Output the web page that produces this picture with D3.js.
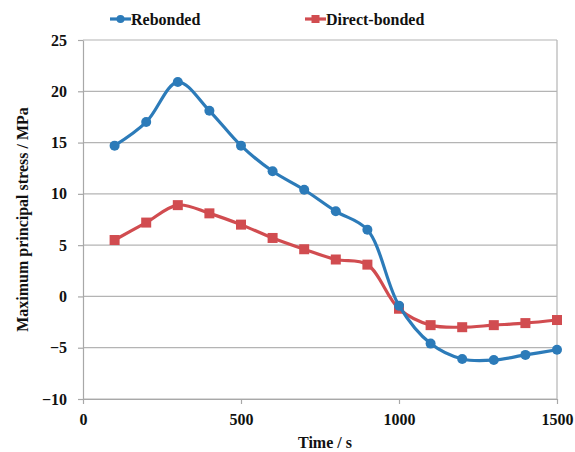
<!DOCTYPE html>
<html>
<head>
<meta charset="utf-8">
<script src="https://cdn.jsdelivr.net/npm/d3@7"></script>
<style>
  body { margin: 0; background: #fff; }
  .lbl { font-family: "Liberation Serif", "Times New Roman", serif; font-weight: bold; font-size: 16px; fill: #111; }
</style>
</head>
<body>
<script>
// Time steps (s)
const times = [100, 200, 300, 400, 500, 600, 700, 800, 900, 1000, 1100, 1200, 1300, 1400, 1500];
// Maximum principal stress (MPa)
const rebonded = [14.7, 17.0, 20.9, 18.1, 14.7, 12.2, 10.4, 8.3, 6.5, -0.9, -4.6, -6.1, -6.2, -5.7, -5.2];
const directBonded = [5.5, 7.2, 8.9, 8.1, 7.0, 5.7, 4.6, 3.6, 3.1, -1.2, -2.8, -3.0, -2.8, -2.6, -2.3];
const xTicks = [0, 500, 1000, 1500];
const yTicks = [25, 20, 15, 10, 5, 0, -5, -10];

const width = 575, height = 452;
const margin = {top: 40, right: 18, bottom: 53, left: 83};

const x = d3.scaleLinear([0, 1500], [margin.left, width - margin.right]);
const y = d3.scaleLinear([-10, 25], [height - margin.bottom, margin.top]);

const series = [
    {name: "Rebonded", values: rebonded, color: "#2c7bb9", shape: "circle"},
    {name: "Direct-bonded", values: directBonded, color: "#d14c50", shape: "square"}
];

const svg = d3.select("body").append("svg")
    .attr("width", width)
    .attr("height", height)
    .style("display", "block");

// gridlines
svg.append("g")
    .selectAll("line")
    .data(yTicks)
    .join("line")
    .attr("x1", x(0))
    .attr("x2", x(1500))
    .attr("y1", d => y(d))
    .attr("y2", d => y(d))
    .attr("stroke", "#b4b4b4")
    .attr("stroke-width", 1.2);

// right border
svg.append("line")
    .attr("x1", x(1500)).attr("x2", x(1500))
    .attr("y1", y(25)).attr("y2", y(-10))
    .attr("stroke", "#b4b4b4")
    .attr("stroke-width", 1.2);

// axes
const yAxis = svg.append("g")
    .attr("transform", `translate(${x(0)},0)`)
    .call(d3.axisLeft(y).tickValues(yTicks).tickFormat(d3.format("d")).tickSize(5).tickSizeOuter(0).tickPadding(11));

const xAxis = svg.append("g")
    .attr("transform", `translate(0,${y(-10)})`)
    .call(d3.axisBottom(x).tickValues(xTicks).tickFormat(d3.format("d")).tickSize(5).tickSizeOuter(0).tickPadding(10));

[xAxis, yAxis].forEach(a => a
    .attr("font-family", null)
    .attr("font-size", null)
    .selectAll("text")
    .attr("class", "lbl")
    .attr("fill", null));

svg.selectAll(".domain, .tick line")
    .attr("stroke", "#a8a8a8")
    .attr("stroke-width", 1.2);

// axis titles
svg.append("text")
    .attr("class", "lbl")
    .attr("x", (x(0) + x(1500)) / 2 + 5)
    .attr("y", 448)
    .attr("text-anchor", "middle")
    .text("Time / s");

svg.append("text")
    .attr("class", "lbl")
    .attr("transform", `translate(28,${(y(25) + y(-10)) / 2}) rotate(-90)`)
    .attr("text-anchor", "middle")
    .text("Maximum principal stress / MPa");

// lines
const line = d3.line()
    .x((d, i) => x(times[i]))
    .y(d => y(d))
    .curve(d3.curveCatmullRom.alpha(0.5));

function drawMarker(g, s, cx, cy, size) {
    if (s.shape === "circle") {
        g.append("circle").attr("cx", cx).attr("cy", cy).attr("r", size / 2).attr("fill", s.color);
    } else {
        g.append("rect")
            .attr("x", cx - size / 2).attr("y", cy - size / 2)
            .attr("width", size).attr("height", size)
            .attr("fill", s.color);
    }
}

series.slice().reverse().forEach(s => {
    const g = svg.append("g");
    g.append("path")
        .datum(s.values)
        .attr("d", line)
        .attr("fill", "none")
        .attr("stroke", s.color)
        .attr("stroke-width", 3.2);
    s.values.forEach((v, i) => drawMarker(g, s, x(times[i]), y(v), 10));
});

// legend
const legendX = [110, 305];
series.forEach((s, i) => {
    const g = svg.append("g").attr("transform", `translate(${legendX[i]},19)`);
    g.append("line")
        .attr("x1", 0).attr("x2", 21)
        .attr("stroke", s.color)
        .attr("stroke-width", 3.2);
    drawMarker(g, s, 10.5, 0, 8);
    g.append("text")
        .attr("class", "lbl")
        .attr("x", 21)
        .attr("y", 5.5)
        .text(s.name);
});
</script>
</body>
</html>
